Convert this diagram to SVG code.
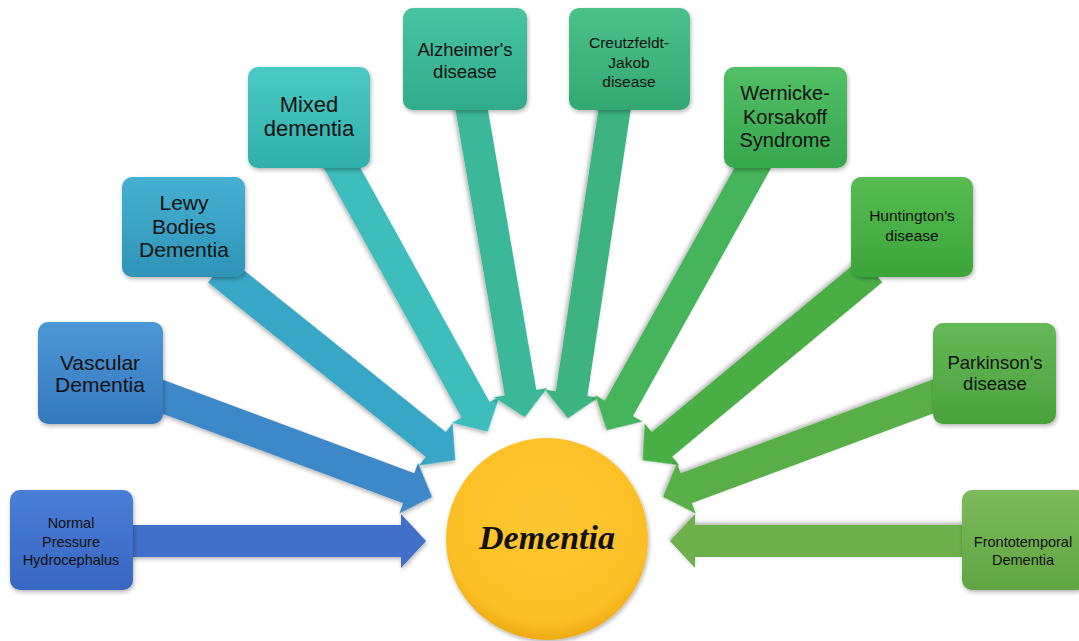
<svg xmlns="http://www.w3.org/2000/svg" width="1079" height="641" viewBox="0 0 1079 641">
<defs>
<filter id="sh" x="-10%" y="-10%" width="125%" height="130%">
<feDropShadow dx="1" dy="2" stdDeviation="2" flood-color="#000" flood-opacity="0.3"/>
</filter>
<linearGradient id="g1" x1="0" y1="0" x2="0" y2="1"><stop offset="0" stop-color="#4a7ed6"/><stop offset="1" stop-color="#3866c0"/></linearGradient>
<linearGradient id="g2" x1="0" y1="0" x2="0" y2="1"><stop offset="0" stop-color="#4d97d6"/><stop offset="1" stop-color="#3478be"/></linearGradient>
<linearGradient id="g3" x1="0" y1="0" x2="0" y2="1"><stop offset="0" stop-color="#46b0d2"/><stop offset="1" stop-color="#2f94b8"/></linearGradient>
<linearGradient id="g4" x1="0" y1="0" x2="0" y2="1"><stop offset="0" stop-color="#4bc9c3"/><stop offset="1" stop-color="#31afac"/></linearGradient>
<linearGradient id="g5" x1="0" y1="0" x2="0" y2="1"><stop offset="0" stop-color="#48c4a3"/><stop offset="1" stop-color="#30ab8b"/></linearGradient>
<linearGradient id="g6" x1="0" y1="0" x2="0" y2="1"><stop offset="0" stop-color="#4cc08b"/><stop offset="1" stop-color="#33a872"/></linearGradient>
<linearGradient id="g7" x1="0" y1="0" x2="0" y2="1"><stop offset="0" stop-color="#52bf66"/><stop offset="1" stop-color="#37a74d"/></linearGradient>
<linearGradient id="g8" x1="0" y1="0" x2="0" y2="1"><stop offset="0" stop-color="#56bc52"/><stop offset="1" stop-color="#3ca53a"/></linearGradient>
<linearGradient id="g9" x1="0" y1="0" x2="0" y2="1"><stop offset="0" stop-color="#65b857"/><stop offset="1" stop-color="#4aa23c"/></linearGradient>
<linearGradient id="g10" x1="0" y1="0" x2="0" y2="1"><stop offset="0" stop-color="#7cbb5c"/><stop offset="1" stop-color="#60a544"/></linearGradient>
<radialGradient id="gc" cx="0.5" cy="0.4" r="0.6"><stop offset="0" stop-color="#fec733"/><stop offset="0.85" stop-color="#fbbf25"/><stop offset="1" stop-color="#eeab15"/></radialGradient>
</defs>
<style>
.t{font-family:"Liberation Sans","DejaVu Sans",sans-serif;fill:#111;text-anchor:middle}
.box{filter:url(#sh)}
.arr{filter:url(#sh)}
</style>
<rect width="1079" height="641" fill="#fff"/>
<g id="connectors">
<path class="arr" fill="#4170c8" transform="translate(120,541) rotate(0)" d="M0,-16 H281 V-27 L306,0 L281,27 V16 H0 Z"/>
<path class="arr" fill="#3e88c9" transform="translate(150,392) rotate(20.4)" d="M0,-16 H276 V-27 L301,0 L276,27 V16 H0 Z"/>
<path class="arr" fill="#39a6c6" transform="translate(218,270) rotate(38.7)" d="M0,-16 H279 V-27 L304,0 L279,27 V16 H0 Z"/>
<path class="arr" fill="#3cbdbb" transform="translate(335,155) rotate(61.1)" d="M0,-16 H291 V-27 L316,0 L291,27 V16 H0 Z"/>
<path class="arr" fill="#3bb899" transform="translate(470,100) rotate(80.2)" d="M0,-16 H297 V-27 L322,0 L297,27 V16 H0 Z"/>
<path class="arr" fill="#3eb47f" transform="translate(616,100) rotate(98.6)" d="M0,-16 H297 V-27 L322,0 L297,27 V16 H0 Z"/>
<path class="arr" fill="#44b45a" transform="translate(760,155) rotate(119.1)" d="M0,-16 H290 V-27 L315,0 L290,27 V16 H0 Z"/>
<path class="arr" fill="#49af45" transform="translate(872,270) rotate(140.3)" d="M0,-16 H273 V-27 L298,0 L273,27 V16 H0 Z"/>
<path class="arr" fill="#58af47" transform="translate(945,392) rotate(159.6)" d="M0,-16 H276 V-27 L301,0 L276,27 V16 H0 Z"/>
<path class="arr" fill="#6daf4c" transform="translate(980,541) rotate(180)" d="M0,-16 H285 V-27 L310,0 L285,27 V16 H0 Z"/>
</g>
<g id="n1"><rect class="box" x="10" y="490" width="123" height="100" rx="10" fill="url(#g1)"/>
<text class="t" x="71" y="528" font-size="14.5">Normal</text><text class="t" x="71" y="547" font-size="14.5">Pressure</text><text class="t" x="71" y="565" font-size="14.5">Hydrocephalus</text></g>
<g id="n2"><rect class="box" x="38" y="322" width="125" height="102" rx="10" fill="url(#g2)"/>
<text class="t" x="100" y="370" font-size="21">Vascular</text><text class="t" x="100" y="392" font-size="21">Dementia</text></g>
<g id="n3"><rect class="box" x="122" y="177" width="123" height="100" rx="10" fill="url(#g3)"/>
<text class="t" x="184" y="210" font-size="21">Lewy</text><text class="t" x="184" y="234" font-size="21">Bodies</text><text class="t" x="184" y="257" font-size="21">Dementia</text></g>
<g id="n4"><rect class="box" x="248" y="67" width="122" height="101" rx="10" fill="url(#g4)"/>
<text class="t" x="309" y="112" font-size="22">Mixed</text><text class="t" x="309" y="136" font-size="22">dementia</text></g>
<g id="n5"><rect class="box" x="403" y="8" width="124" height="102" rx="10" fill="url(#g5)"/>
<text class="t" x="465" y="56" font-size="18.5">Alzheimer's</text><text class="t" x="465" y="78" font-size="18.5">disease</text></g>
<g id="n6"><rect class="box" x="569" y="8" width="121" height="102" rx="10" fill="url(#g6)"/>
<text class="t" x="629" y="48" font-size="15.5">Creutzfeldt-</text><text class="t" x="629" y="68" font-size="15.5">Jakob</text><text class="t" x="629" y="87" font-size="15.5">disease</text></g>
<g id="n7"><rect class="box" x="724" y="67" width="123" height="101" rx="10" fill="url(#g7)"/>
<text class="t" x="785" y="100" font-size="20">Wernicke-</text><text class="t" x="785" y="124" font-size="20">Korsakoff</text><text class="t" x="785" y="147" font-size="20">Syndrome</text></g>
<g id="n8"><rect class="box" x="851" y="177" width="122" height="100" rx="10" fill="url(#g8)"/>
<text class="t" x="912" y="221" font-size="15.5">Huntington's</text><text class="t" x="912" y="241" font-size="15.5">disease</text></g>
<g id="n9"><rect class="box" x="933" y="323" width="123" height="101" rx="10" fill="url(#g9)"/>
<text class="t" x="995" y="369" font-size="18.5">Parkinson's</text><text class="t" x="995" y="390" font-size="18.5">disease</text></g>
<g id="n10"><rect class="box" x="962" y="490" width="125" height="100" rx="10" fill="url(#g10)"/>
<text class="t" x="1023" y="547" font-size="14.5">Frontotemporal</text><text class="t" x="1023" y="565" font-size="14.5">Dementia</text></g>
<g id="center"><circle cx="547" cy="539" r="101" fill="url(#gc)" filter="url(#sh)"/>
<text x="547" y="549" font-family="'Liberation Serif','DejaVu Serif',serif" font-style="italic" font-weight="bold" font-size="34" fill="#111" text-anchor="middle">Dementia</text></g>
</svg>
